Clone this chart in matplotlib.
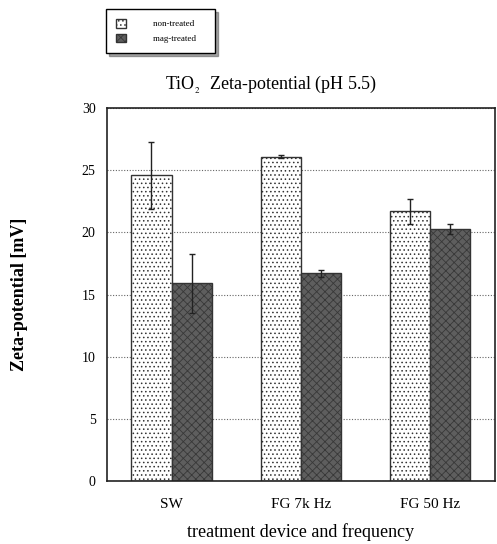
import numpy as np
import matplotlib
matplotlib.use("Agg")
import matplotlib.pyplot as plt

categories = ["SW", "FG 7k Hz", "FG 50 Hz"]
series_names = ["non-treated", "mag-treated"]
non_treated = [24.6, 26.1, 21.7]
non_treated_err = [2.7, 0.1, 1.0]
mag_treated = [15.9, 16.7, 20.3]
mag_treated_err = [2.4, 0.3, 0.4]
y_ticks = [0, 5, 10, 15, 20, 25, 30]

plt.rcParams['font.family'] = ['Liberation Serif', 'DejaVu Serif']
plt.rcParams['mathtext.fontset'] = 'stix'
plt.rcParams['hatch.linewidth'] = 0.6
plt.rcParams['hatch.color'] = '#777777'

fig = plt.figure(figsize=(4.97, 5.44), dpi=100)
ax = fig.add_axes([0.215, 0.116, 0.781, 0.685])

x = np.arange(len(categories))
w = 0.31

b1 = ax.bar(x - w / 2, non_treated, w, color='white', edgecolor='#333333',
            hatch='....', linewidth=1.0, zorder=2)
ax.errorbar(x - w / 2, non_treated, yerr=non_treated_err, fmt='none',
            ecolor='#222222', elinewidth=1.0, capsize=2.5, capthick=1.0, zorder=3)

b2 = ax.bar(x + w / 2, mag_treated, w, color='#5e5e5e', edgecolor='#333333',
            linewidth=1.0, zorder=2)
for p in b2:
    p.set_hatch('xxxx')
    p._hatch_color = matplotlib.colors.to_rgba('#383838')
ax.errorbar(x + w / 2, mag_treated, yerr=mag_treated_err, fmt='none',
            ecolor='#222222', elinewidth=1.0, capsize=2.5, capthick=1.0, zorder=3)

ax.set_xlim(-0.5, 2.5)
ax.set_ylim(0, 30)
ax.set_yticks(y_ticks)
ax.set_xticks(x)
ax.set_xticklabels(categories, fontsize=11)
ax.tick_params(axis='x', length=0, pad=12)
ax.tick_params(axis='y', length=0, pad=8, labelsize=10)
ax.yaxis.grid(True, linestyle=(0, (1, 1.5)), color='#666666', linewidth=0.8, zorder=0)
ax.set_axisbelow(True)
for s in ax.spines.values():
    s.set_linewidth(1.2)
    s.set_color('#222222')

fig.text(0.545, 1 - 84 / 544, r"TiO$_{_2}$  Zeta-potential (pH 5.5)", ha='center',
         va='center', fontsize=13)
ax.set_xlabel("treatment device and frequency", fontsize=13, labelpad=9)
fig.text(20 / 497, 1 - 294 / 544, "Zeta-potential [mV]", rotation=90,
         ha='center', va='center', fontsize=13, fontweight='bold')

# legend box with drop shadow, upper left above the plot
leg = fig.legend([b1, b2], series_names, loc='upper left',
                 bbox_to_anchor=(106 / 497, 1 - 9 / 544), fontsize=6.5,
                 frameon=True, fancybox=False, shadow=True, edgecolor='black',
                 handlelength=1.1, handleheight=1.1, borderpad=1.1,
                 handletextpad=3.0, labelspacing=0.6, borderaxespad=0)
leg.get_frame().set_linewidth(1.0)
leg._legend_box.sep = 0
for t in leg.get_texts():
    t.set_text(t.get_text() + "    ")

fig.savefig("out.png", dpi=100)
